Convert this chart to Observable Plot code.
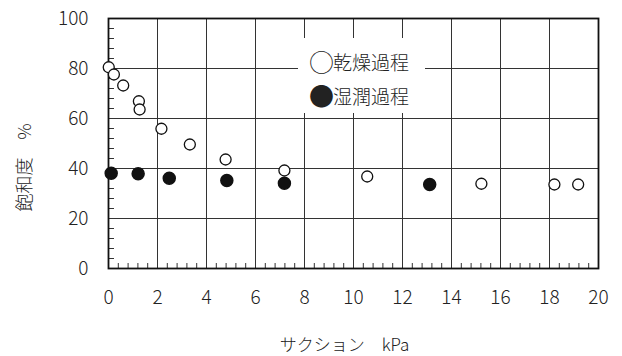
<!DOCTYPE html>
<html><head><meta charset="utf-8">
<script src="https://cdn.jsdelivr.net/npm/d3@7"></script>
<script src="https://cdn.jsdelivr.net/npm/@observablehq/plot@0.6"></script>
<style>
body{margin:0;background:#fff;}
#wrap{position:relative;width:622px;height:356px;font-family:"Noto Sans CJK JP",sans-serif;font-weight:300;}
#legend{position:absolute;left:298px;top:38px;width:127px;height:75px;background:#fff;}
#legend .row{position:absolute;left:11px;height:20px;font-size:19px;line-height:20px;white-space:nowrap;color:#222;}
#legend .sym{display:inline-block;width:24px;height:20px;font-size:25px;line-height:19px;vertical-align:top;overflow:visible;}
</style>
</head><body>
<div id="wrap"><div id="legend"></div></div>
<script>
const dryX = [0.01, 0.22, 0.6, 1.24, 1.27, 2.16, 3.32, 4.78, 7.18, 10.56, 15.22, 18.2, 19.17];
const dryY = [80.5, 77.6, 73.2, 66.9, 63.6, 55.9, 49.6, 43.6, 39.2, 36.8, 33.9, 33.6, 33.6];
const wetX = [0.11, 1.21, 2.48, 4.83, 7.18, 13.11];
const wetY = [38.1, 37.9, 36.1, 35.2, 34.1, 33.6];
const xTicks = [0, 2, 4, 6, 8, 10, 12, 14, 16, 18, 20];
const yTicks = [0, 20, 40, 60, 80, 100];
const xMinor = d3.range(0, 51).map(i => i * 0.4);
const yMinor = d3.range(0, 26).map(i => i * 4);
const seriesNames = ["乾燥過程", "湿潤過程"];
const xLabel = "サクション　kPa";
const yLabel = "飽和度　%";

const dry = dryX.map((x, i) => ({x, y: dryY[i]}));
const wet = wetX.map((x, i) => ({x, y: wetY[i]}));

const plot = Plot.plot({
  width: 622, height: 356,
  marginLeft: 108, marginRight: 24, marginTop: 18, marginBottom: 88,
  style: {fontFamily: "'Noto Sans CJK JP', sans-serif", fontWeight: 300, color: "#222", background: "#fff"},
  x: {domain: [0, 20]},
  y: {domain: [0, 100]},
  marks: [
    Plot.gridX(xTicks, {stroke: "#333", strokeOpacity: 1, strokeWidth: 1}),
    Plot.gridY(yTicks, {stroke: "#333", strokeOpacity: 1, strokeWidth: 1}),
    Plot.tickX(xMinor, {x: d => d, insetTop: 245, stroke: "#333", strokeWidth: 1}),
    Plot.tickY(yMinor, {y: d => d, insetRight: 484, stroke: "#333", strokeWidth: 1}),
    Plot.axisX({ticks: xTicks, tickSize: 0, tickPadding: 22, fontSize: 19, label: null}),
    Plot.axisY({ticks: yTicks, tickSize: 0, tickPadding: 20, fontSize: 19, label: null}),
    Plot.frame({stroke: "#111", strokeWidth: 1.8}),
    Plot.text([xLabel], {frameAnchor: "bottom", textAnchor: "middle", lineAnchor: "middle", dy: 77, dx: -9, fontSize: 17, fill: "#222"}),
    Plot.text([yLabel], {frameAnchor: "left", textAnchor: "middle", lineAnchor: "middle", dx: -83, dy: 24, rotate: -90, fontSize: 18, fill: "#222"}),
    Plot.dot(wet, {x: "x", y: "y", r: 6, fill: "#111", stroke: "#111"}),
    Plot.dot(dry, {x: "x", y: "y", r: 5.5, fill: "#fff", stroke: "#111", strokeWidth: 1.3})
  ]
});
const wrap = document.getElementById("wrap");
wrap.insertBefore(plot, wrap.firstChild);
const legend = document.getElementById("legend");
const symbols = ["○", "●"];
seriesNames.forEach((name, i) => {
  const d = document.createElement("div");
  d.className = "row";
  d.style.top = (14 + i * 34) + "px";
  const s = document.createElement("span");
  s.className = "sym";
  s.textContent = symbols[i];
  d.appendChild(s);
  d.appendChild(document.createTextNode(name));
  legend.appendChild(d);
});
</script>
</body></html>
